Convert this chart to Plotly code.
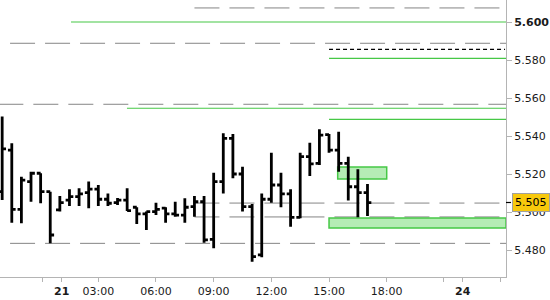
import plotly.graph_objects as go

# Bar times: hours relative to day 21, 00:00 (30-minute bars)
times = [-2.0, -1.5, -1.0, -0.5, 0.0, 0.5, 1.0, 1.5, 2.0, 2.5,
         3.0, 3.5, 4.0, 4.5, 5.0, 5.5, 6.0, 6.5, 7.0, 7.5,
         8.0, 8.5, 9.0, 9.5, 10.0, 10.5, 11.0, 11.5, 12.0, 12.5,
         13.0, 13.5, 14.0, 14.5, 15.0, 15.5, 16.0, 16.5, 17.0]

opens = [5.5107, 5.5326, 5.5014, 5.5160, 5.5204, 5.5107, 5.5011, 5.5063, 5.5081, 5.5102,
         5.5120, 5.5067, 5.5049, 5.5063, 5.5025, 5.4990, 5.5002, 5.5020, 5.4990, 5.4984,
         5.5028, 5.5054, 5.4856, 5.5160, 5.5388, 5.5200, 5.5028, 5.4774, 5.5067, 5.5142,
         5.5095, 5.4972, 5.5291, 5.5256, 5.5407, 5.5326, 5.5256, 5.5133, 5.5102]
highs = [5.5502, 5.5362, 5.5186, 5.5212, 5.5204, 5.5107, 5.5084, 5.5120, 5.5125, 5.5160,
         5.5142, 5.5098, 5.5074, 5.5125, 5.5025, 5.5002, 5.5049, 5.5025, 5.5054, 5.5072,
         5.5084, 5.5084, 5.5207, 5.5414, 5.5411, 5.5238, 5.5042, 5.5098, 5.5312, 5.5207,
         5.5120, 5.5312, 5.5365, 5.5435, 5.5411, 5.5423, 5.5291, 5.5225, 5.5147]
lows = [5.5063, 5.4944, 5.4941, 5.5054, 5.5046, 5.4835, 5.5002, 5.5032, 5.5032, 5.5020,
        5.5032, 5.5032, 5.5037, 5.5005, 5.4937, 5.4905, 5.4984, 5.4944, 5.4975, 5.4944,
        5.4975, 5.4838, 5.4809, 5.5098, 5.5177, 5.5002, 5.4738, 5.4762, 5.5049, 5.5025,
        5.4923, 5.4967, 5.5190, 5.5247, 5.5312, 5.5212, 5.5060, 5.4972, 5.4979]
closes = [5.5332, 5.5014, 5.5168, 5.5204, 5.5107, 5.4879, 5.5049, 5.5081, 5.5095, 5.5120,
          5.5067, 5.5046, 5.5063, 5.5007, 5.4990, 5.5002, 5.5014, 5.4990, 5.4984, 5.5025,
          5.5054, 5.4853, 5.5160, 5.5388, 5.5200, 5.5028, 5.4765, 5.5067, 5.5142, 5.5095,
          5.4972, 5.5291, 5.5253, 5.5405, 5.5326, 5.5256, 5.5133, 5.5102, 5.5049]

last_price = 5.505

# Horizontal levels: (price, start hour)
gray_levels = [5.6074, 5.5888, 5.5567, 5.5047, 5.4974, 5.4835]
gray_starts = [8.0, -1.59, -2.2, 8.0, 8.0, -1.59]
green_levels = [5.6000, 5.5809, 5.5546, 5.5488]
green_starts = [1.58, 15.0, 4.49, 15.0]
black_level = 5.5856
black_start = 15.0

# Zones: (x0, x1, y0, y1)
zone_small = (15.45, 18.0, 5.5174, 5.5237)
zone_large = (15.0, None, 5.4916, 5.4968)

x_range = [-2.113, 24.204]
y_range = [5.46579, 5.61158]

y_ticks = [5.48, 5.50, 5.52, 5.54, 5.56, 5.58, 5.60]
y_labels = ["5.480", "5.500", "5.520", "5.540", "5.560", "5.580", "<b>5.600</b>"]

x_ticks = [1.1, 3, 6, 9, 12, 15, 18, 21.95]
x_labels = ["<b>21</b>", "03:00", "06:00", "09:00", "12:00", "15:00", "18:00", "<b>24</b>"]
x_minor = [0.1, 20.93, 23.93]

FONT = "DejaVu Sans"
GREEN = "#46c846"
GRAY = "#858585"
AXIS = "#b4b4b4"

fig = go.Figure()
fig.add_trace(go.Ohlc(
    x=times, open=opens, high=highs, low=lows, close=closes,
    increasing=dict(line=dict(color="black", width=2.8)),
    decreasing=dict(line=dict(color="black", width=2.8)),
    tickwidth=0.4, hoverinfo="skip", showlegend=False,
))

shapes = []
for lvl, x0 in zip(gray_levels, gray_starts):
    shapes.append(dict(type="line", xref="x", yref="y", x0=x0, x1=x_range[1], y0=lvl, y1=lvl,
                       line=dict(color=GRAY, width=1, dash="25px,10px"), layer="below"))
for lvl, x0 in zip(green_levels, green_starts):
    shapes.append(dict(type="line", xref="x", yref="y", x0=x0, x1=x_range[1], y0=lvl, y1=lvl,
                       line=dict(color=GREEN, width=1.2), layer="below"))
shapes.append(dict(type="line", xref="x", yref="y", x0=black_start, x1=x_range[1] - 0.05,
                   y0=black_level, y1=black_level,
                   line=dict(color="black", width=1.3, dash="4px,3px"), layer="below"))
for (x0, x1, y0, y1) in [zone_small, zone_large]:
    shapes.append(dict(type="rect", xref="x", yref="y", x0=x0, x1=(x1 if x1 is not None else x_range[1]),
                       y0=y0, y1=y1, fillcolor="#b5ecb5", line=dict(color=GREEN, width=1.5),
                       layer="below"))
# last price tick on axis
shapes.append(dict(type="line", xref="paper", yref="y", x0=1.0, x1=1.01, y0=last_price, y1=last_price,
                   line=dict(color="black", width=1.2)))

fig.update_layout(
    width=550, height=300,
    margin=dict(l=0, r=44, t=0, b=23),
    paper_bgcolor="white", plot_bgcolor="white",
    shapes=shapes,
    showlegend=False,
    xaxis=dict(
        range=x_range, rangeslider=dict(visible=False), showgrid=False, zeroline=False,
        showline=True, linecolor=AXIS, linewidth=1,
        tickmode="array", tickvals=x_ticks, ticktext=x_labels,
        ticks="outside", ticklen=4, tickcolor=AXIS,
        tickfont=dict(family=FONT, size=11, color="#1a1a1a"),
        minor=dict(tickmode="array", tickvals=x_minor, ticks="outside", ticklen=4, tickcolor=AXIS),
    ),
    yaxis=dict(
        range=y_range, side="right", showgrid=False, zeroline=False,
        showline=True, linecolor=AXIS, linewidth=1,
        tickmode="array", tickvals=y_ticks, ticktext=y_labels,
        ticks="outside", ticklen=5, tickcolor=AXIS,
        tickfont=dict(family=FONT, size=11, color="#1a1a1a"),
    ),
    annotations=[dict(
        xref="paper", yref="y", x=1.0, y=last_price, xanchor="left", yanchor="middle",
        xshift=6, text="5.505", showarrow=False,
        font=dict(family=FONT, size=11, color="black"),
        bgcolor="#f8c90c", bordercolor="#a0a0a0", borderwidth=1, borderpad=2,
    )],
)

fig.write_html("out.html")
